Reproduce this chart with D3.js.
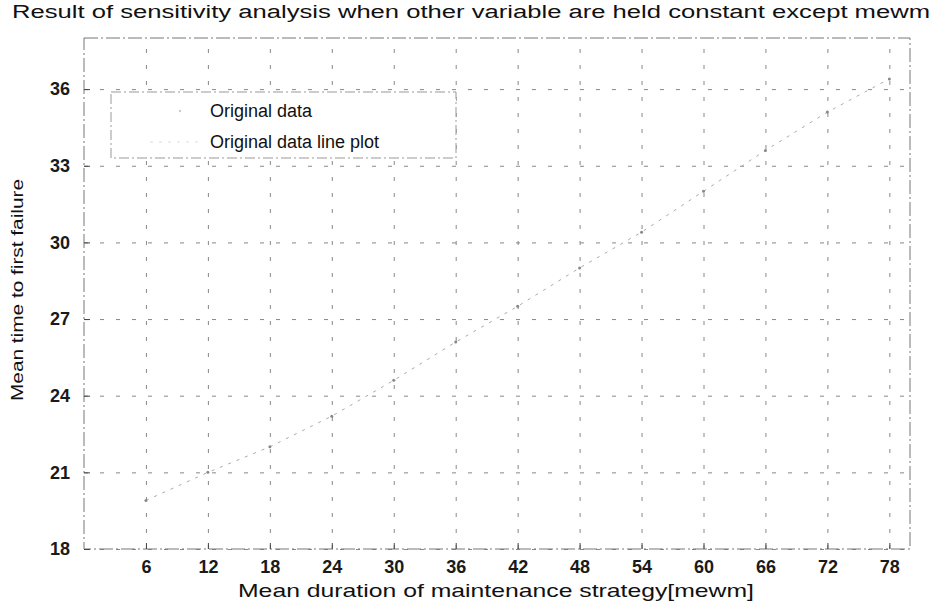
<!DOCTYPE html>
<html lang="en">
<head>
<meta charset="UTF-8">
<title>Sensitivity analysis</title>
<script src="https://cdn.jsdelivr.net/npm/d3@7"></script>
<style>
    body { margin: 0; background: #fff; }
    text { font-family: "Liberation Sans", Arial, sans-serif; fill: #111; }
    .tick text { font-size: 18px; font-weight: bold; fill: #1a1a1a; }
    .grid line { stroke: #888; stroke-dasharray: 4 12; stroke-width: 1; }
</style>
</head>
<body>
<script>
    // data
    var mewm = [6, 12, 18, 24, 30, 36, 42, 48, 54, 60, 66, 72, 78];
    var mttf = [19.9, 21.0, 22.0, 23.2, 24.6, 26.1, 27.5, 29.0, 30.4, 32.0, 33.6, 35.1, 36.4];
    var xTicks = [6, 12, 18, 24, 30, 36, 42, 48, 54, 60, 66, 72, 78];
    var yTicks = [18, 21, 24, 27, 30, 33, 36];
    var legendLabels = ["Original data", "Original data line plot"];

    var W = 939, H = 605;
    var margin = {top: 38, right: 29, bottom: 56, left: 84};

    var svg = d3.select("body").append("svg")
        .attr("width", W)
        .attr("height", H);

    var x = d3.scaleLinear().domain([0, 80]).range([margin.left, W - margin.right]);
    var y = d3.scaleLinear().domain([18, 38]).range([H - margin.bottom, margin.top]);

    // grid
    svg.append("g")
        .attr("class", "grid")
        .attr("transform", "translate(0," + (H - margin.bottom) + ")")
        .call(d3.axisBottom(x).tickValues(xTicks).tickSize(-(H - margin.top - margin.bottom)).tickFormat(""))
        .call(function(g) { g.select(".domain").remove(); });

    svg.append("g")
        .attr("class", "grid")
        .attr("transform", "translate(" + margin.left + ",0)")
        .call(d3.axisLeft(y).tickValues(yTicks).tickSize(-(W - margin.left - margin.right)).tickFormat(""))
        .call(function(g) { g.select(".domain").remove(); });

    // frame
    svg.append("rect")
        .attr("x", margin.left)
        .attr("y", margin.top)
        .attr("width", W - margin.left - margin.right)
        .attr("height", H - margin.top - margin.bottom)
        .attr("fill", "none")
        .attr("stroke", "#777")
        .attr("stroke-dasharray", "14 3 2 3");

    // axes
    var xAxis = svg.append("g")
        .attr("transform", "translate(0," + (H - margin.bottom) + ")")
        .call(d3.axisBottom(x).tickValues(xTicks).tickSize(-6).tickPadding(11));
    xAxis.select(".domain").remove();
    xAxis.selectAll(".tick line").attr("stroke", "#444");

    var yAxis = svg.append("g")
        .attr("transform", "translate(" + margin.left + ",0)")
        .call(d3.axisLeft(y).tickValues(yTicks).tickSize(-6).tickPadding(14));
    yAxis.select(".domain").remove();
    yAxis.selectAll(".tick line").attr("stroke", "#444");

    // line plot
    var line = d3.line()
        .x(function(d, i) { return x(mewm[i]); })
        .y(function(d) { return y(d); });

    svg.append("path")
        .datum(mttf)
        .attr("d", line)
        .attr("fill", "none")
        .attr("stroke", "#aaa")
        .attr("stroke-width", 1)
        .attr("stroke-dasharray", "3 6");

    // data markers
    svg.selectAll(".pt")
        .data(mttf)
        .enter().append("circle")
        .attr("class", "pt")
        .attr("cx", function(d, i) { return x(mewm[i]); })
        .attr("cy", function(d) { return y(d); })
        .attr("r", 1.5)
        .attr("fill", "#888");

    // legend
    var lg = svg.append("g");
    lg.append("rect")
        .attr("x", 111).attr("y", 92)
        .attr("width", 345).attr("height", 66)
        .attr("fill", "#fff")
        .attr("stroke", "#999")
        .attr("stroke-dasharray", "10 3 2 3");
    lg.append("circle").attr("cx", 180).attr("cy", 111).attr("r", 1.2).attr("fill", "#ccc");
    lg.append("line")
        .attr("x1", 150).attr("x2", 200).attr("y1", 142).attr("y2", 142)
        .attr("stroke", "#ddd").attr("stroke-dasharray", "3 6");
    lg.selectAll(".lt")
        .data(legendLabels)
        .enter().append("text")
        .attr("x", 210)
        .attr("y", function(d, i) { return 117 + i * 31; })
        .style("font-size", "18px")
        .text(function(d) { return d; });

    // titles
    svg.append("text")
        .attr("x", 12).attr("y", 18)
        .attr("textLength", 918)
        .attr("lengthAdjust", "spacingAndGlyphs")
        .style("font-size", "18px")
        .text("Result of sensitivity analysis when other variable are held constant except mewm");

    svg.append("text")
        .attr("x", 496).attr("y", 597)
        .attr("text-anchor", "middle")
        .attr("textLength", 516)
        .attr("lengthAdjust", "spacingAndGlyphs")
        .style("font-size", "19px")
        .text("Mean duration of maintenance strategy[mewm]");

    svg.append("text")
        .attr("transform", "translate(23," + 290 + ") rotate(-90)")
        .attr("text-anchor", "middle")
        .attr("textLength", 222)
        .attr("lengthAdjust", "spacingAndGlyphs")
        .style("font-size", "16px")
        .text("Mean time to first failure");
</script>
</body>
</html>
